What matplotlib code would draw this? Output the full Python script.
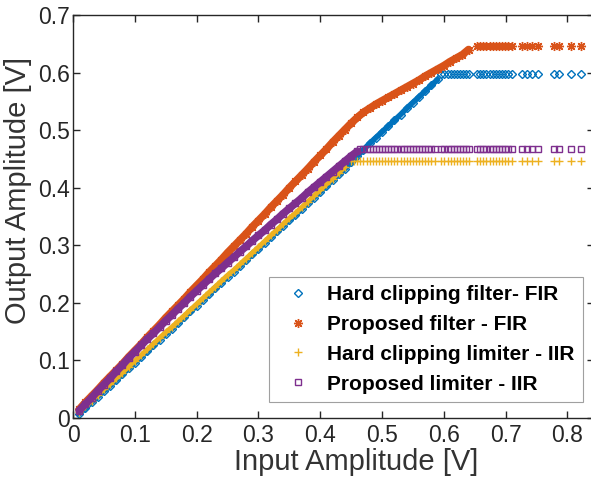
import numpy as np
import matplotlib
matplotlib.use('Agg')
import matplotlib.pyplot as plt

# input amplitudes [V] on the rising parts of the curves
amp_ramp = [0.01, 0.02, 0.03, 0.04, 0.05, 0.06, 0.07, 0.08, 0.09, 0.10,
            0.11, 0.12, 0.13, 0.14, 0.15, 0.16, 0.17, 0.18, 0.19, 0.20,
            0.21, 0.22, 0.23, 0.24, 0.25, 0.26, 0.27, 0.28, 0.29, 0.30,
            0.31, 0.32, 0.33, 0.34, 0.35, 0.36, 0.37, 0.38, 0.39, 0.40,
            0.41, 0.42, 0.43, 0.44, 0.45, 0.46, 0.47, 0.48, 0.49, 0.50,
            0.51, 0.52, 0.53, 0.54, 0.55, 0.56, 0.57, 0.58, 0.59, 0.60,
            0.61, 0.62, 0.63, 0.64]

# input amplitudes [V] measured in the saturated region
amp_sat = [0.450, 0.455, 0.460, 0.465, 0.470, 0.475, 0.480, 0.485, 0.490, 0.495,
           0.500, 0.505, 0.510, 0.515, 0.520, 0.525, 0.530, 0.535, 0.540, 0.545,
           0.550, 0.555, 0.560, 0.565, 0.570, 0.575, 0.580, 0.585,
           0.596, 0.601, 0.606, 0.611, 0.616, 0.621, 0.626, 0.631, 0.636, 0.641,
           0.654, 0.659, 0.664, 0.669, 0.674, 0.679, 0.684, 0.689, 0.694, 0.699,
           0.704, 0.710,
           0.726, 0.734, 0.742, 0.752, 0.778, 0.786, 0.805, 0.822]

# output amplitude on the rising part, then the clipped level
hard_fir_ramp = [0.007, 0.017, 0.027, 0.037, 0.047, 0.056, 0.066, 0.076, 0.086, 0.096,
                 0.106, 0.116, 0.126, 0.136, 0.146, 0.155, 0.165, 0.175, 0.185, 0.195,
                 0.205, 0.215, 0.225, 0.235, 0.245, 0.254, 0.264, 0.274, 0.284, 0.294,
                 0.304, 0.314, 0.324, 0.334, 0.344, 0.353, 0.363, 0.373, 0.383, 0.393,
                 0.403, 0.413, 0.423, 0.433, 0.444, 0.455, 0.466, 0.477, 0.487, 0.497,
                 0.507, 0.517, 0.527, 0.538, 0.548, 0.558, 0.568, 0.578, 0.588]
hard_fir_clip = 0.597

prop_fir_ramp = [0.015, 0.027, 0.038, 0.049, 0.061, 0.072, 0.083, 0.094, 0.106, 0.117,
                 0.128, 0.140, 0.151, 0.162, 0.174, 0.185, 0.196, 0.207, 0.219, 0.230,
                 0.241, 0.253, 0.264, 0.275, 0.287, 0.298, 0.309, 0.320, 0.332, 0.343,
                 0.354, 0.366, 0.377, 0.388, 0.400, 0.411, 0.422, 0.433, 0.445, 0.456,
                 0.467, 0.479, 0.490, 0.501, 0.512, 0.522, 0.531, 0.538, 0.545, 0.551,
                 0.557, 0.563, 0.569, 0.575, 0.581, 0.587, 0.594, 0.600, 0.606, 0.612,
                 0.619, 0.625, 0.631, 0.640]
prop_fir_clip = 0.647

hard_iir_ramp = [0.010, 0.020, 0.030, 0.040, 0.050, 0.059, 0.069, 0.079, 0.089, 0.099,
                 0.109, 0.119, 0.129, 0.139, 0.149, 0.158, 0.168, 0.178, 0.188, 0.198,
                 0.208, 0.218, 0.228, 0.238, 0.248, 0.257, 0.267, 0.277, 0.287, 0.297,
                 0.307, 0.317, 0.327, 0.337, 0.347, 0.356, 0.366, 0.376, 0.386, 0.396,
                 0.406, 0.416, 0.426, 0.436]
hard_iir_clip = 0.446

prop_iir_ramp = [0.013, 0.024, 0.035, 0.047, 0.058, 0.069, 0.081, 0.092, 0.104, 0.115,
                 0.126, 0.137, 0.147, 0.158, 0.169, 0.179, 0.190, 0.200, 0.211, 0.221,
                 0.231, 0.241, 0.251, 0.260, 0.270, 0.279, 0.289, 0.298, 0.308, 0.317,
                 0.326, 0.336, 0.345, 0.355, 0.364, 0.373, 0.382, 0.392, 0.401, 0.410,
                 0.419, 0.428, 0.437, 0.446, 0.455, 0.463]
prop_iir_clip = 0.467

labels = ['Hard clipping filter- FIR', 'Proposed filter - FIR',
          'Hard clipping limiter - IIR', 'Proposed limiter - IIR']

plt.rcParams['font.family'] = ['Liberation Sans', 'DejaVu Sans']

fig = plt.figure(figsize=(5.91, 4.84), dpi=100)
# right spine sits just past the picture edge, as in the original
ax = fig.add_axes([73/591, 66/484, 521/591, 403/484])

xr = np.array(amp_ramp)
xs = np.array(amp_sat)
asterisk = (8, 2, 0)
series = [
    (hard_fir_ramp, hard_fir_clip, '#0072BD', 'D', 3.6, 'none', 4.0),
    (prop_fir_ramp, prop_fir_clip, '#D95319', asterisk, 6.5, '#D95319', 5.5),
    (hard_iir_ramp, hard_iir_clip, '#EDB120', '+', 5.5, '#EDB120', 3.5),
    (prop_iir_ramp, prop_iir_clip, '#7E2F8E', 's', 3.8, 'none', 5.5),
]
for (ramp, clip, col, mk, ms, mfc, lw), lab in zip(series, labels):
    n = len(ramp)
    ax.plot(xr[:n], ramp, '-', color=col, lw=lw, solid_capstyle='round')
    ax.plot(xr[:n], ramp, linestyle='none', marker=mk, ms=ms, mfc=mfc,
            mec=col, mew=1.0)
    xf = xs[xs > xr[n - 1] + 0.004]
    ax.plot(xf, np.full(len(xf), clip), linestyle='none', marker=mk, ms=ms,
            mfc=mfc, mec=col, mew=1.0, label=lab)

ax.set_xlim(0, 0.843)
ax.set_ylim(0, 0.7)
ax.set_xticks([0, 0.1, 0.2, 0.3, 0.4, 0.5, 0.6, 0.7, 0.8])
ax.set_xticklabels(['0', '0.1', '0.2', '0.3', '0.4', '0.5', '0.6', '0.7', '0.8'])
ax.set_yticks([0, 0.1, 0.2, 0.3, 0.4, 0.5, 0.6, 0.7])
ax.set_yticklabels(['0', '0.1', '0.2', '0.3', '0.4', '0.5', '0.6', '0.7'])

dark = '#262626'
for sp in ax.spines.values():
    sp.set_color(dark)
    sp.set_linewidth(1.0)
ax.tick_params(direction='in', top=True, right=True, length=5, width=1.0,
               colors=dark, labelsize=16.5)
ax.tick_params(axis='x', pad=4)
ax.tick_params(axis='y', pad=2)

ax.set_xlabel('Input Amplitude [V]', fontsize=21, color='#333333')
ax.xaxis.set_label_coords((356 - 73) / 521, -0.075)
ax.set_ylabel('Output Amplitude [V]', fontsize=21, color='#333333')
ax.yaxis.set_label_coords((32 - 73) / 521, (418 - 190) / 403)

leg = ax.legend(loc='lower right', bbox_to_anchor=(0.979, 0.040),
                borderaxespad=0, fancybox=False, framealpha=1,
                edgecolor='#a0a0a0', handlelength=2.0, handletextpad=0.4,
                labelspacing=0.52, borderpad=0.4, markerscale=1.0,
                prop={'weight': 'bold', 'size': 15})
leg.get_frame().set_linewidth(0.8)

fig.savefig('out.png', dpi=100)
